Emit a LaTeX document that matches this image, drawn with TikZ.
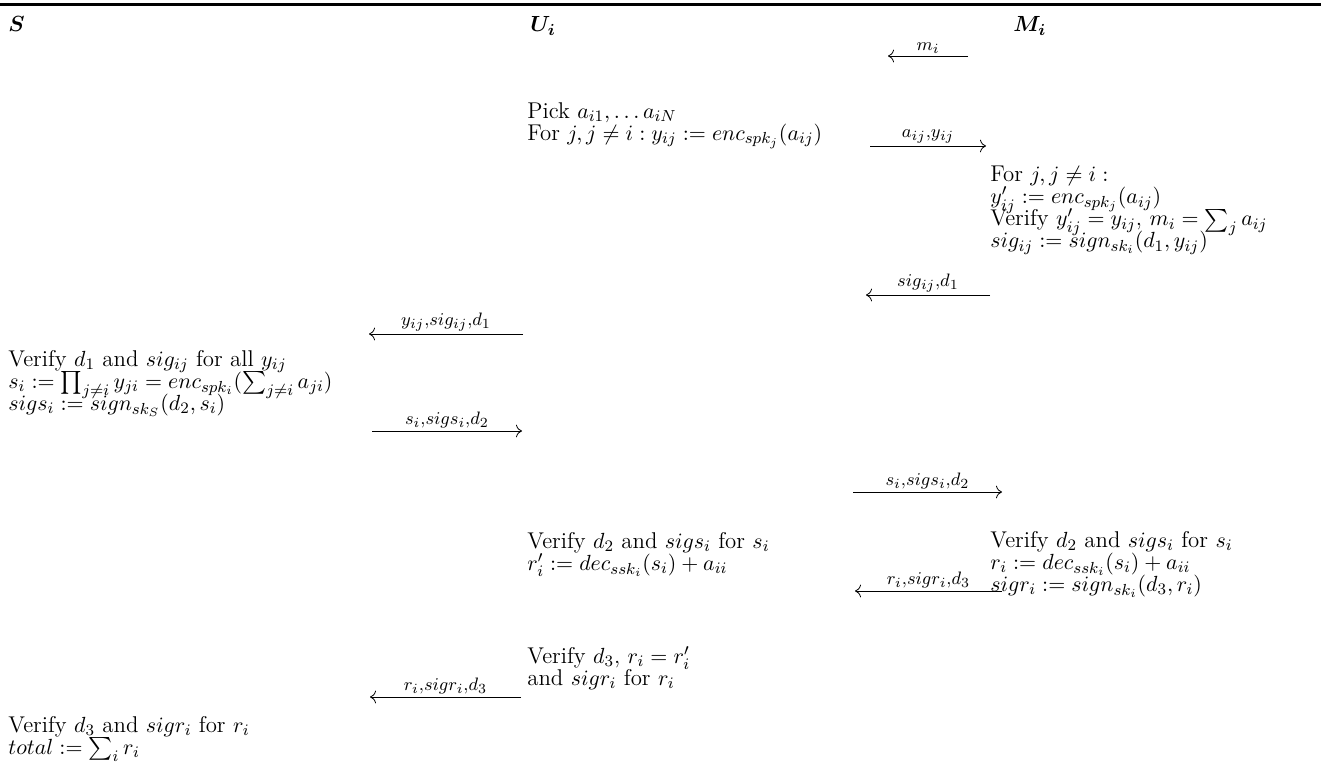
\documentclass[tikz,border=0pt]{standalone}
\usepackage{amsmath}
\usepackage{amssymb}
\usepackage{bm}
\usepackage{tikz}
\usetikzlibrary{arrows.meta, positioning, calc}

\newcommand{\worklines}{\fontsize{11.4}{11}\selectfont\lineskiplimit=-20pt\relax}

\tikzset{
  party/.style={anchor=base west, inner sep=0pt, font=\fontsize{11.4}{13}\selectfont},
  work/.style={anchor=north west, inner sep=0pt, align=left, font=\worklines},
  msg/.style={-{To[length=3pt]}, thin},
  msglbl/.style={above, inner sep=1.2pt, font=\fontsize{13.4}{15}\selectfont}
}

\begin{document}
\begin{tikzpicture}[x=0.5pt, y=-0.5pt]
  \useasboundingbox (0,0) rectangle (1321,769);
  \coordinate (ruleL) at (0,5);
  \coordinate (ruleR) at (1321,5);
  \draw[line width=1.5pt] (ruleL) -- (ruleR);

  % parties
  \node[party] (hS) at (8,32) {$\bm{S}$};
  \node[party] (hU) at (530,32) {$\bm{U_i}$};
  \node[party] (hM) at (1013,32) {$\bm{M_i}$};

  % messages
  \foreach \xa/\xb/\y/\t [count=\k] in {
      968/888/56/{m_i},
      870/986/146/{a_{ij},y_{ij}},
      990/866/295/{sig_{ij},d_1},
      523/369/334/{y_{ij},sig_{ij},d_1},
      372/522/431/{s_i,sigs_i,d_2},
      853/1002/492/{s_i,sigs_i,d_2},
      1002/855/591/{r_i,sigr_i,d_3},
      521/370/697/{r_i,sigr_i,d_3}}{
    \coordinate (msg\k a) at (\xa,\y);
    \coordinate (msg\k b) at (\xb,\y);
    \draw[msg] (msg\k a) -- node[msglbl] {$\scriptstyle\t$} (msg\k b);
  }

  % steps of U_i
  \node[work] (uPick) at (527,102) {Pick $a_{i1},\ldots a_{iN}$\\
    For $j, j\neq i: y_{ij} := enc_{spk_j}(a_{ij})$};
  \node[work] (uVer2) at (527,532) {Verify $d_2$ and $sigs_i$ for $s_i$\\
    $r'_i := dec_{ssk_i}(s_i) + a_{ii}$};
  \node[work] (uVer3) at (527,646) {Verify $d_3$, $r_i = r'_i$\\
    and $sigr_i$ for $r_i$};

  % steps of M_i
  \node[work] (mEnc) at (990,166) {For $j, j\neq i:$\\
    $y'_{ij} := enc_{spk_j}(a_{ij})$\\
    Verify $y'_{ij} = y_{ij}$, $m_i = \sum_j a_{ij}$\\
    $sig_{ij} := sign_{sk_i}(d_1, y_{ij})$};
  \node[work] (mVer2) at (990,531) {Verify $d_2$ and $sigs_i$ for $s_i$\\
    $r_i := dec_{ssk_i}(s_i) + a_{ii}$\\
    $sigr_i := sign_{sk_i}(d_3, r_i)$};

  % steps of S
  \node[work] (sVer1) at (8,350) {Verify $d_1$ and $sig_{ij}$ for all $y_{ij}$\\
    $s_i := \prod_{j\neq i} y_{ji} = enc_{spk_i}(\sum_{j\neq i} a_{ji})$\\
    $sigs_i := sign_{sk_S}(d_2, s_i)$};
  \node[work] (sVer3) at (8,716) {Verify $d_3$ and $sigr_i$ for $r_i$\\
    $total := \sum_i r_i$};
\end{tikzpicture}
\end{document}
